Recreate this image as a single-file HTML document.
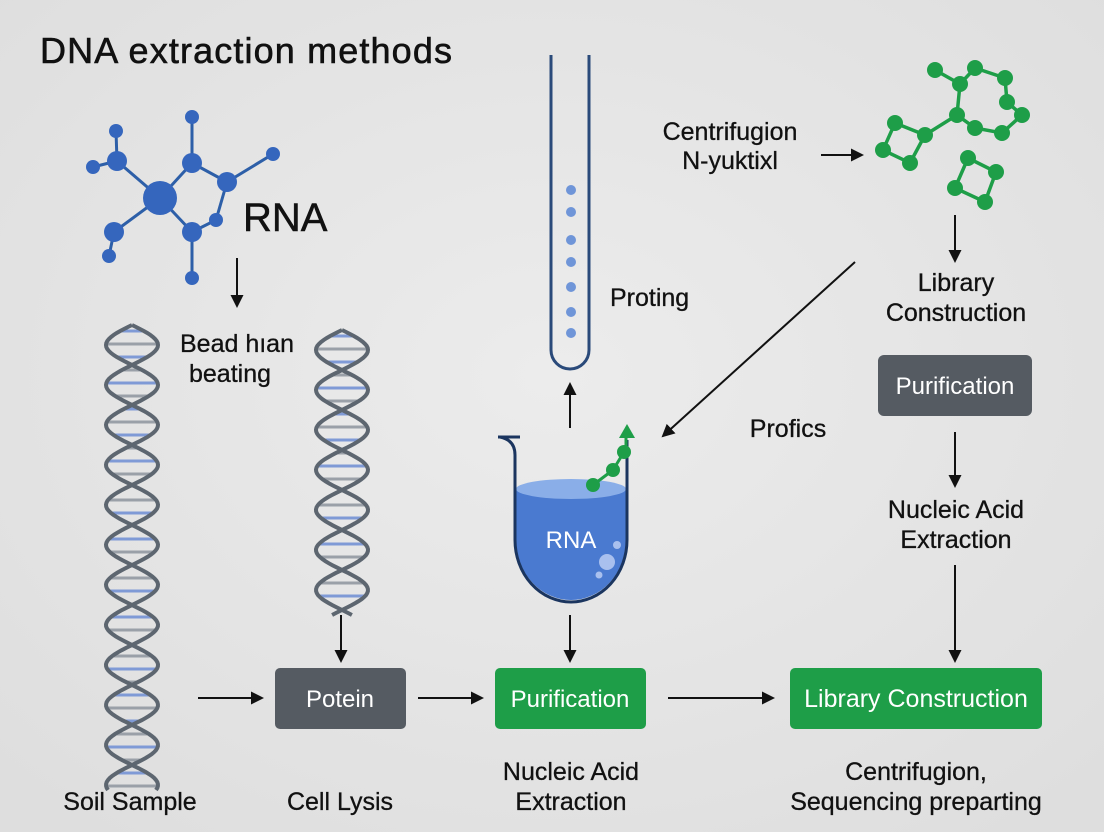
<!DOCTYPE html>
<html><head><meta charset="utf-8"><style>
html,body{margin:0;padding:0;background:#e4e4e4;}
svg{display:block;font-family:"Liberation Sans",sans-serif;}
</style></head><body>
<svg id="s" width="1104" height="832" viewBox="0 0 1104 832" xmlns="http://www.w3.org/2000/svg">
<defs>
<radialGradient id="bg" cx="50%" cy="45%" r="70%"><stop offset="0" stop-color="#ececec"/><stop offset="1" stop-color="#dedede"/></radialGradient>
<marker id="ah" markerWidth="13" markerHeight="13" refX="11" refY="6.5" orient="auto" markerUnits="userSpaceOnUse"><path d="M0,0 L13,6.5 L0,13 z" fill="#111"/></marker>
</defs>
<rect width="1104" height="832" fill="url(#bg)"/>
<text x="40" y="63" font-size="36" fill="#111" stroke="#111" stroke-width="0.6" textLength="412">DNA extraction methods</text>

<g stroke="#2d5fa8" stroke-width="3">
<line x1="160" y1="198" x2="117" y2="161"/><line x1="117" y1="161" x2="93" y2="167"/><line x1="117" y1="161" x2="116" y2="131"/>
<line x1="160" y1="198" x2="192" y2="163"/><line x1="192" y1="163" x2="192" y2="117"/><line x1="192" y1="163" x2="227" y2="182"/>
<line x1="227" y1="182" x2="273" y2="154"/><line x1="227" y1="182" x2="216" y2="220"/><line x1="216" y1="220" x2="192" y2="232"/>
<line x1="160" y1="198" x2="192" y2="232"/><line x1="192" y1="232" x2="192" y2="278"/><line x1="160" y1="198" x2="114" y2="232"/><line x1="114" y1="232" x2="109" y2="256"/>
</g>
<g fill="#3566bd">
<circle cx="160" cy="198" r="17"/><circle cx="117" cy="161" r="10"/><circle cx="93" cy="167" r="7"/><circle cx="116" cy="131" r="7"/>
<circle cx="192" cy="163" r="10"/><circle cx="192" cy="117" r="7"/><circle cx="227" cy="182" r="10"/><circle cx="273" cy="154" r="7"/>
<circle cx="216" cy="220" r="7"/><circle cx="192" cy="232" r="10"/><circle cx="192" cy="278" r="7"/><circle cx="114" cy="232" r="10"/><circle cx="109" cy="256" r="7"/>
</g>
<text x="243" y="231" font-size="40" fill="#111" stroke="#111" stroke-width="0.5">RNA</text>

<g stroke="#1e9e48" stroke-width="3.5" fill="none">
<polyline points="935,70 960,84 975,68 1005,78 1007,102 1022,115 1002,133 975,128 957,115 960,84"/>
<polyline points="957,115 925,135 895,123 883,150 910,163 925,135"/>
<polygon points="968,158 996,172 985,202 955,188"/>
</g>
<g fill="#1e9e48">
<circle cx="935" cy="70" r="8"/><circle cx="960" cy="84" r="8"/><circle cx="975" cy="68" r="8"/><circle cx="1005" cy="78" r="8"/><circle cx="1007" cy="102" r="8"/><circle cx="1022" cy="115" r="8"/><circle cx="1002" cy="133" r="8"/><circle cx="975" cy="128" r="8"/><circle cx="957" cy="115" r="8"/><circle cx="925" cy="135" r="8"/><circle cx="895" cy="123" r="8"/><circle cx="883" cy="150" r="8"/><circle cx="910" cy="163" r="8"/>
<circle cx="968" cy="158" r="8"/><circle cx="996" cy="172" r="8"/><circle cx="985" cy="202" r="8"/><circle cx="955" cy="188" r="8"/>
</g>

<path d="M551,55 V350 A19,19 0 0 0 589,350 V55" fill="none" stroke="#2a4a7a" stroke-width="3"/>
<g fill="#6f95d8"><circle cx="571" cy="190" r="5"/><circle cx="571" cy="212" r="5"/><circle cx="571" cy="240" r="5"/><circle cx="571" cy="262" r="5"/><circle cx="571" cy="287" r="5"/><circle cx="571" cy="312" r="5"/><circle cx="571" cy="333" r="5"/></g>

<path d="M516,490 V540 A55,60 0 0 0 626,540 V490 Z" fill="#4a7ad0"/>
<ellipse cx="571" cy="489" rx="55" ry="10" fill="#8aaee8"/>
<path d="M498,437 H520 M500,437 Q515,440 515,455 V540 A56,62 0 0 0 627,540 V440" fill="none" stroke="#1b355f" stroke-width="3"/>
<circle cx="607" cy="562" r="8" fill="#a9c0ee"/><circle cx="617" cy="545" r="4" fill="#a9c0ee"/><circle cx="599" cy="575" r="3.5" fill="#a9c0ee"/>
<text x="571" y="548" font-size="24" fill="#fff" text-anchor="middle">RNA</text>
<g stroke="#1e9e48" stroke-width="3"><line x1="593" y1="485" x2="613" y2="470"/><line x1="613" y1="470" x2="624" y2="452"/><line x1="626" y1="452" x2="626" y2="432"/></g>
<g fill="#1e9e48"><circle cx="593" cy="485" r="7"/><circle cx="613" cy="470" r="7"/><circle cx="624" cy="452" r="7"/><path d="M619,438 L627,424 L635,438 Z"/></g>

<g id="h1"></g><g id="h2"></g>

<g font-size="25" fill="#111" text-anchor="middle" stroke="#111" stroke-width="0.3">
<text x="610" y="306" text-anchor="start">Proting</text>
<text x="237" y="352">Bead hıan</text><text x="230" y="382">beating</text>
<text x="730" y="140">Centrifugion</text><text x="730" y="169">N-yuktixl</text>
<text x="956" y="291">Library</text><text x="956" y="321">Construction</text>
<text x="788" y="437">Profics</text>
<text x="956" y="518">Nucleic Acid</text><text x="956" y="548">Extraction</text>
<text x="571" y="780">Nucleic Acid</text><text x="571" y="810">Extraction</text>
<text x="916" y="780">Centrifugion,</text><text x="916" y="810">Sequencing preparting</text>
<text x="130" y="810">Soil Sample</text><text x="340" y="810">Cell Lysis</text>
</g>

<rect x="275" y="668" width="131" height="61" rx="5" fill="#555b62"/>
<text x="340" y="707" font-size="24" fill="#fff" text-anchor="middle">Potein</text>
<rect x="495" y="668" width="151" height="61" rx="5" fill="#1e9e48"/>
<text x="570" y="707" font-size="24" fill="#fff" text-anchor="middle">Purification</text>
<rect x="790" y="668" width="252" height="61" rx="5" fill="#1e9e48"/>
<text x="916" y="707" font-size="25" fill="#fff" text-anchor="middle">Library Construction</text>
<rect x="878" y="355" width="154" height="61" rx="6" fill="#555b62"/>
<text x="955" y="394" font-size="24" fill="#fff" text-anchor="middle">Purification</text>

<g stroke="#111" stroke-width="2" marker-end="url(#ah)">
<line x1="198" y1="698" x2="262" y2="698"/><line x1="418" y1="698" x2="482" y2="698"/><line x1="668" y1="698" x2="773" y2="698"/>
<line x1="341" y1="615" x2="341" y2="661"/><line x1="570" y1="615" x2="570" y2="661"/><line x1="955" y1="565" x2="955" y2="661"/>
<line x1="955" y1="432" x2="955" y2="486"/><line x1="955" y1="215" x2="955" y2="261"/><line x1="237" y1="258" x2="237" y2="306"/>
<line x1="570" y1="428" x2="570" y2="384"/><line x1="821" y1="155" x2="862" y2="155"/><line x1="855" y1="262" x2="663" y2="436"/>
</g>
</svg>
<script>
function helix(g,cx,y0,y1,amp,per){
  var ns="http://www.w3.org/2000/svg",a="",b="",n=Math.round((y1-y0)/2);
  for(var i=0;i<=n;i++){var y=y0+(y1-y0)*i/n,t=(y-y0)/per*2*Math.PI;
    a+=(i?"L":"M")+(cx+amp*Math.sin(t)).toFixed(1)+","+y.toFixed(1);
    b+=(i?"L":"M")+(cx-amp*Math.sin(t)).toFixed(1)+","+y.toFixed(1);}
  var el=document.getElementById(g);
  for(var y=y0+6;y<y1;y+=13){var t=(y-y0)/per*2*Math.PI,x=amp*Math.abs(Math.sin(t));
    if(x<6)continue;var l=document.createElementNS(ns,"line");
    l.setAttribute("x1",cx-x);l.setAttribute("x2",cx+x);l.setAttribute("y1",y);l.setAttribute("y2",y);
    l.setAttribute("stroke",(Math.floor(y/13)%2)?"#7f9ad6":"#9aa0a8");l.setAttribute("stroke-width","3");el.appendChild(l);}
  [a,b].forEach(function(d){var p=document.createElementNS(ns,"path");p.setAttribute("d",d);p.setAttribute("fill","none");p.setAttribute("stroke","#5d6670");p.setAttribute("stroke-width","4");el.appendChild(p);});
}
helix("h1",132,325,790,26,80);
helix("h2",342,330,615,26,80);
</script>
</body></html>
